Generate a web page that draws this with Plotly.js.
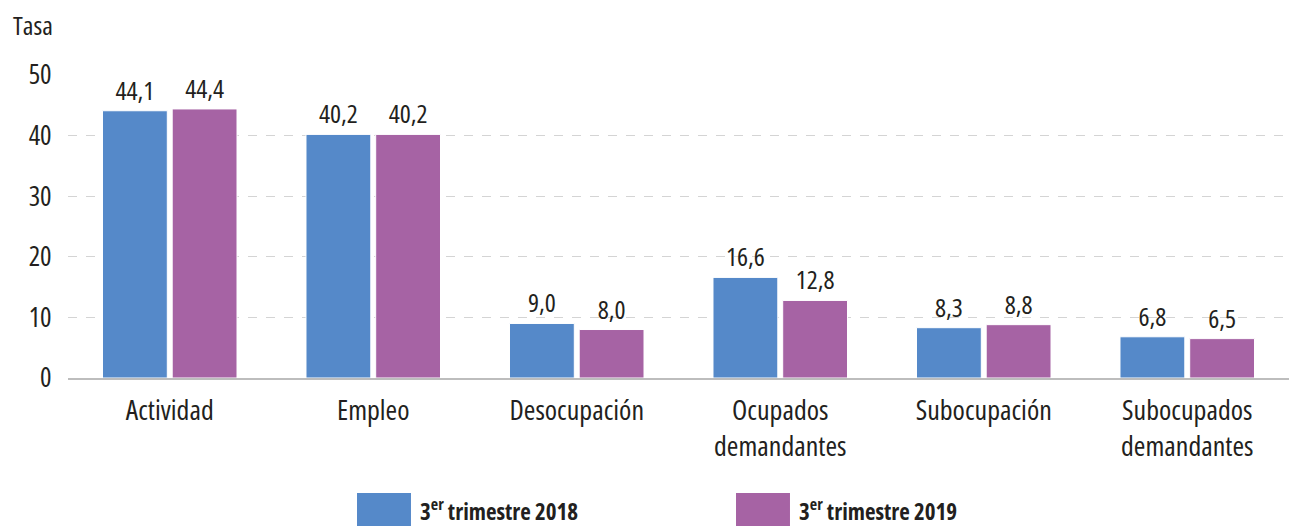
<!DOCTYPE html>
<html>
<head>
<meta charset="utf-8">
<script src="https://cdn.plot.ly/plotly-3.0.1.min.js"></script>
<style>
  html, body { margin: 0; padding: 0; background: #fff; }
  #plot { width: 1291px; height: 526px; }
  text { font-stretch: condensed; }
</style>
</head>
<body>
<div id="plot"></div>
<script>
var categories = ['Actividad', 'Empleo', 'Desocupación', 'Ocupados<br>demandantes', 'Subocupación', 'Subocupados<br>demandantes'];
var values2018 = [44.1, 40.2, 9.0, 16.6, 8.3, 6.8];
var values2019 = [44.4, 40.2, 8.0, 12.8, 8.8, 6.5];
var seriesNames = ['3<sup>er</sup> trimestre 2018', '3<sup>er</sup> trimestre 2019'];

var FONT = '"Open Sans", "Noto Sans", sans-serif';
var TEXT = '#231f20';
var BLUE = '#5589c9';
var PURPLE = '#a663a4';

function fmt(v) { return v.toFixed(1).replace('.', ','); }

function barTrace(vals, name, color) {
    return {
        type: 'bar',
        x: categories,
        y: vals,
        name: name,
        text: vals.map(fmt),
        textposition: 'outside',
        cliponaxis: false,
        textfont: { family: FONT, size: 26, color: TEXT },
        marker: { color: color, line: { color: '#ffffff', width: 1 } },
        hoverinfo: 'skip'
    };
}

var data = [
    barTrace(values2018, seriesNames[0], BLUE),
    barTrace(values2019, seriesNames[1], PURPLE)
];

var layout = {
    width: 1291,
    height: 526,
    margin: { l: 68, r: 2, t: 75, b: 148 },
    paper_bgcolor: '#fff',
    plot_bgcolor: '#fff',
    font: { family: FONT, size: 24, color: TEXT },
    barmode: 'group',
    bargap: 0.315,
    bargroupgap: 0.07,
    showlegend: false,
    xaxis: {
        showline: true,
        linecolor: '#bdbdbd',
        linewidth: 2,
        ticks: '',
        ticklabelstandoff: 6,
        tickfont: { family: FONT, size: 28, color: TEXT },
        fixedrange: true
    },
    yaxis: {
        range: [0, 50],
        dtick: 10,
        showgrid: true,
        gridcolor: '#d4d4d4',
        griddash: 'dash',
        gridwidth: 1,
        zeroline: false,
        showline: false,
        ticks: 'outside',
        ticklen: 10,
        tickcolor: 'rgba(0,0,0,0)',
        tickfont: { family: FONT, size: 27, color: TEXT },
        fixedrange: true
    },
    annotations: [
        { text: 'Tasa', xref: 'paper', yref: 'paper', x: -0.047, y: 1.165, xanchor: 'left', yanchor: 'middle', showarrow: false, font: { family: FONT, size: 26, color: TEXT } },
        { text: '<b>' + seriesNames[0] + '</b>', xref: 'paper', yref: 'paper', x: 0.2867, y: -0.436, xanchor: 'left', yanchor: 'middle', showarrow: false, font: { family: FONT, size: 23, color: TEXT } },
        { text: '<b>' + seriesNames[1] + '</b>', xref: 'paper', yref: 'paper', x: 0.597, y: -0.436, xanchor: 'left', yanchor: 'middle', showarrow: false, font: { family: FONT, size: 23, color: TEXT } }
    ],
    shapes: [
        { type: 'rect', xref: 'paper', yref: 'paper', x0: 0.2367, x1: 0.2809, y0: -0.3795, y1: -0.49, fillcolor: BLUE, line: { width: 0 } },
        { type: 'rect', xref: 'paper', yref: 'paper', x0: 0.5471, x1: 0.5913, y0: -0.3795, y1: -0.49, fillcolor: PURPLE, line: { width: 0 } }
    ]
};

Plotly.newPlot('plot', data, layout, { displayModeBar: false, staticPlot: true });
</script>
</body>
</html>
